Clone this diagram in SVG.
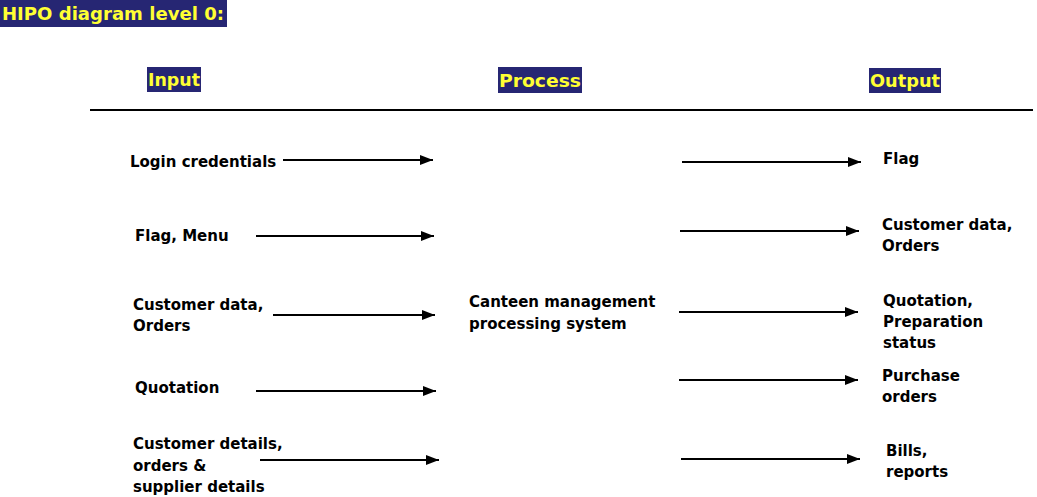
<svg xmlns="http://www.w3.org/2000/svg" width="1037" height="497" viewBox="0 0 1037 497">
<style>
.t{font-family:"DejaVu Sans",Verdana,sans-serif;font-weight:bold;font-size:15px;fill:#000}
.h{font-family:"DejaVu Sans",Verdana,sans-serif;font-weight:bold;font-size:18px;fill:#ffff33}
.ban{fill:#262673}
.c{stroke:#000;stroke-width:2;fill:none;marker-end:url(#ah)}
</style>
<defs>
<marker id="ah" viewBox="0 0 13 10" refX="13" refY="5" markerWidth="13" markerHeight="10" markerUnits="userSpaceOnUse" orient="auto">
<path d="M0,0 L13,5 L0,10 Z" fill="#000"/>
</marker>
</defs>
<rect width="1037" height="497" fill="#fff"/>
<g id="title">
<rect class="ban" x="0" y="0" width="227" height="27"/>
<text class="h" x="2" y="20" textLength="222" lengthAdjust="spacingAndGlyphs">HIPO diagram level 0:</text>
</g>
<g id="header-input">
<rect class="ban" x="147" y="67" width="54" height="25"/>
<text class="h" x="148" y="86" textLength="52" lengthAdjust="spacingAndGlyphs">Input</text>
</g>
<g id="header-process">
<rect class="ban" x="498" y="67" width="84" height="26"/>
<text class="h" x="499" y="87" textLength="82" lengthAdjust="spacingAndGlyphs">Process</text>
</g>
<g id="header-output">
<rect class="ban" x="869" y="68" width="72" height="25"/>
<text class="h" x="870" y="87" textLength="70" lengthAdjust="spacingAndGlyphs">Output</text>
</g>
<line x1="90" y1="110" x2="1033" y2="110" stroke="#000" stroke-width="2"/>
<g id="in-login"><text class="t" x="130" y="167">Login credentials</text></g>
<g id="in-flagmenu"><text class="t" x="135" y="241">Flag, Menu</text></g>
<g id="in-custdata"><text class="t" x="133" y="310">Customer data,</text><text class="t" x="133" y="331">Orders</text></g>
<g id="in-quotation"><text class="t" x="135" y="393">Quotation</text></g>
<g id="in-custdetails"><text class="t" x="133" y="449">Customer details,</text><text class="t" x="133" y="471">orders &amp;</text><text class="t" x="133" y="492">supplier details</text></g>
<g id="process"><text class="t" x="469" y="307">Canteen management</text><text class="t" x="469" y="329">processing system</text></g>
<g id="out-flag"><text class="t" x="883" y="164">Flag</text></g>
<g id="out-custdata"><text class="t" x="882" y="230">Customer data,</text><text class="t" x="882" y="251">Orders</text></g>
<g id="out-quotation"><text class="t" x="883" y="306">Quotation,</text><text class="t" x="883" y="327">Preparation</text><text class="t" x="883" y="348">status</text></g>
<g id="out-purchase"><text class="t" x="882" y="381">Purchase</text><text class="t" x="882" y="402">orders</text></g>
<g id="out-bills"><text class="t" x="886" y="456">Bills,</text><text class="t" x="886" y="477">reports</text></g>
<g id="connectors">
<line class="c" x1="283" y1="160" x2="433" y2="160"/>
<line class="c" x1="256" y1="236" x2="434" y2="236"/>
<line class="c" x1="273" y1="315" x2="435" y2="315"/>
<line class="c" x1="256" y1="391" x2="436" y2="391"/>
<line class="c" x1="260" y1="460" x2="439" y2="460"/>
<line class="c" x1="682" y1="162" x2="861" y2="162"/>
<line class="c" x1="680" y1="231" x2="859" y2="231"/>
<line class="c" x1="679" y1="312" x2="858" y2="312"/>
<line class="c" x1="679" y1="380" x2="858" y2="380"/>
<line class="c" x1="681" y1="459" x2="860" y2="459"/>
</g>
</svg>
